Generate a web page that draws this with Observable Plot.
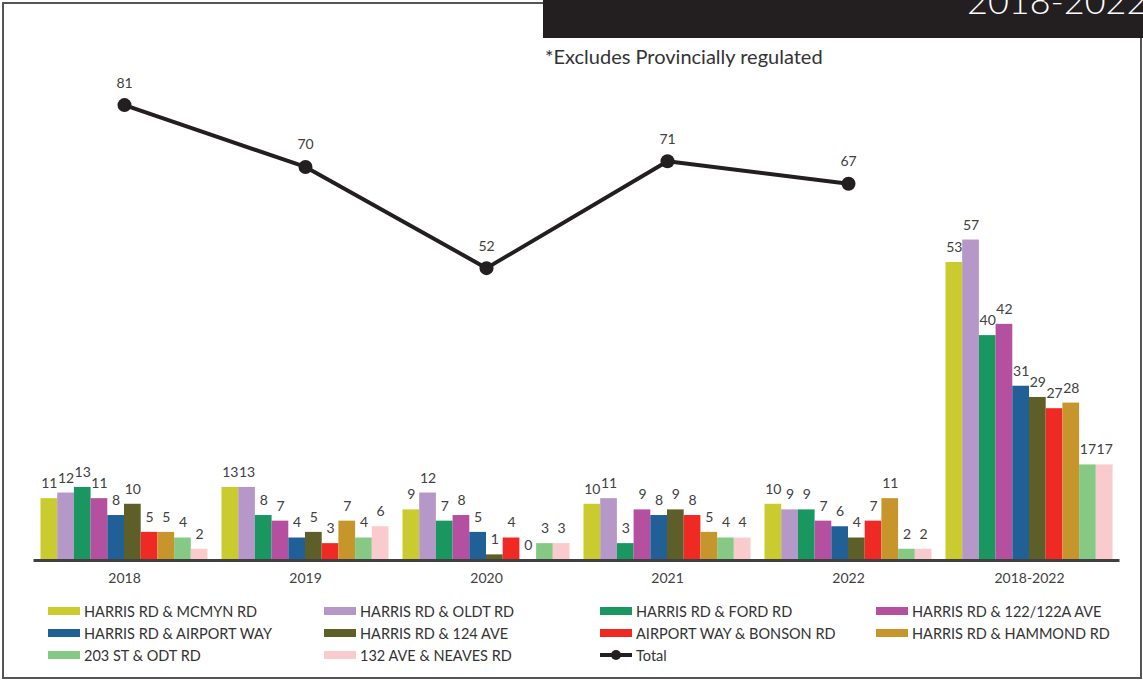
<!DOCTYPE html>
<html>
<head>
<meta charset="utf-8">
<script src="https://cdn.jsdelivr.net/npm/d3@7"></script>
<script src="https://cdn.jsdelivr.net/npm/@observablehq/plot@0.6"></script>
<style>
  html, body { margin: 0; padding: 0; background: #fff; }
  body { width: 1143px; height: 683px; position: relative; overflow: hidden; font-family: Lato, "Open Sans", sans-serif; }
  #frame { position: absolute; left: 2px; top: 2px; width: 1140px; height: 677px; box-sizing: border-box; border: 2px solid #555; }
  #titlebox { position: absolute; left: 543px; top: 0; width: 600px; height: 38px; }
  #subtitle { position: absolute; left: 545px; top: 44px; font-size: 20px; color: #333; white-space: nowrap; }
  #chart { position: absolute; left: 0; top: 0; }
  #legend { position: absolute; left: 48px; top: 600px; }
  .item { position: absolute; display: flex; align-items: center; white-space: nowrap; font-size: 14.5px; color: #333; height: 22px; }
  .sw { width: 32px; height: 8px; margin-right: 4px; }
</style>
</head>
<body>
<div id="frame"></div>
<div id="chart"></div>
<svg id="titlebox" width="600" height="38">
  <rect x="0" y="0" width="600" height="38" fill="#231f20"></rect>
  <text x="424" y="14" fill="#fff" font-family="Lato, sans-serif" font-weight="300" font-size="36">2018-2022</text>
</svg>
<div id="subtitle">*Excludes Provincially regulated</div>
<div id="legend"></div>
<script>
// ---- data ----
const groups = ["2018", "2019", "2020", "2021", "2022", "2018-2022"];
const seriesNames = [
  "HARRIS RD & MCMYN RD",
  "HARRIS RD & OLDT RD",
  "HARRIS RD & FORD RD",
  "HARRIS RD & 122/122A AVE",
  "HARRIS RD & AIRPORT WAY",
  "HARRIS RD & 124 AVE",
  "AIRPORT WAY & BONSON RD",
  "HARRIS RD & HAMMOND RD",
  "203 ST & ODT RD",
  "132 AVE & NEAVES RD"
];
const seriesColors = ["#cacb2e", "#b598c7", "#1a9661", "#b54f9f", "#216097", "#5e5e29", "#ef2a24", "#c6962c", "#86c985", "#f9cbcc"];
const mcmyn    = [11, 13, 9, 10, 10, 53];
const oldt     = [12, 13, 12, 11, 9, 57];
const ford     = [13, 8, 7, 3, 9, 40];
const ave122   = [11, 7, 8, 9, 7, 42];
const airport  = [8, 4, 5, 8, 6, 31];
const ave124   = [10, 5, 1, 9, 4, 29];
const bonson   = [5, 3, 4, 8, 7, 27];
const hammond  = [5, 7, 0, 5, 11, 28];
const st203    = [4, 4, 3, 4, 2, 17];
const neaves   = [2, 6, 3, 4, 2, 17];
const totalYears = ["2018", "2019", "2020", "2021", "2022"];
const totals = [81, 70, 52, 71, 67];

const seriesValues = [mcmyn, oldt, ford, ave122, airport, ave124, bonson, hammond, st203, neaves];

// ---- table ----
const clusterWidth = 0.9227;               // fraction of each group occupied by bars
const barW = clusterWidth / seriesNames.length;
const rows = [];
groups.forEach((g, gi) => {
  seriesNames.forEach((s, si) => {
    const x1 = gi - clusterWidth / 2 + si * barW;
    rows.push({group: g, series: s, value: seriesValues[si][gi], x1, x2: x1 + barW, xm: x1 + barW / 2});
  });
});
const totalRows = totalYears.map((y, i) => ({year: y, idx: groups.indexOf(y), total: totals[i]}));

const chart = Plot.plot({
  width: 1143,
  height: 590,
  marginLeft: 33.5,
  marginRight: 23.5,
  marginTop: 54,
  marginBottom: 30,
  style: {overflow: "visible", fontFamily: "Lato, sans-serif", background: "transparent"},
  x: {domain: [-0.5, 5.5], axis: null},
  y: {domain: [0, 90], axis: null},
  color: {domain: seriesNames, range: seriesColors},
  marks: [
    Plot.rectY(rows, {x1: "x1", x2: "x2", y: "value", fill: "series"}),
    Plot.text(rows, {x: "xm", y: "value", text: d => String(d.value), dy: -15, fontSize: 14, fill: "#404040"}),
    Plot.ruleY([0], {stroke: "#404040", strokeWidth: 3}),
    Plot.axisX({ticks: d3.range(groups.length), tickFormat: i => groups[i], tickSize: 0, tickPadding: 13, fontSize: 14, fill: "#404040"}),
    Plot.line(totalRows, {x: "idx", y: "total", stroke: "#231f20", strokeWidth: 4}),
    Plot.dot(totalRows, {x: "idx", y: "total", r: 7, fill: "#231f20"}),
    Plot.text(totalRows, {x: "idx", y: "total", text: d => String(d.total), dy: -22, fontSize: 14, fill: "#404040"})
  ]
});
document.getElementById("chart").appendChild(chart);

// ---- legend ----
const legend = document.getElementById("legend");
const legendItems = seriesNames.map((s, i) => ({name: s, color: seriesColors[i]})).concat([{name: "Total", line: true}]);
legendItems.forEach((it, i) => {
  const col = i % 4, row = Math.floor(i / 4);
  const div = document.createElement("div");
  div.className = "item";
  div.style.left = (col * 276) + "px";
  div.style.top = (row * 22) + "px";
  if (it.line) {
    div.innerHTML = '<svg width="32" height="12" style="margin-right:4px"><line x1="0" x2="32" y1="6" y2="6" stroke="#231f20" stroke-width="4"/><circle cx="16" cy="6" r="5" fill="#231f20"/></svg>';
  } else {
    div.innerHTML = '<span class="sw" style="background:' + it.color + '"></span>';
  }
  const t = document.createElement("span");
  t.textContent = it.name;
  div.appendChild(t);
  legend.appendChild(div);
});
</script>
</body>
</html>
